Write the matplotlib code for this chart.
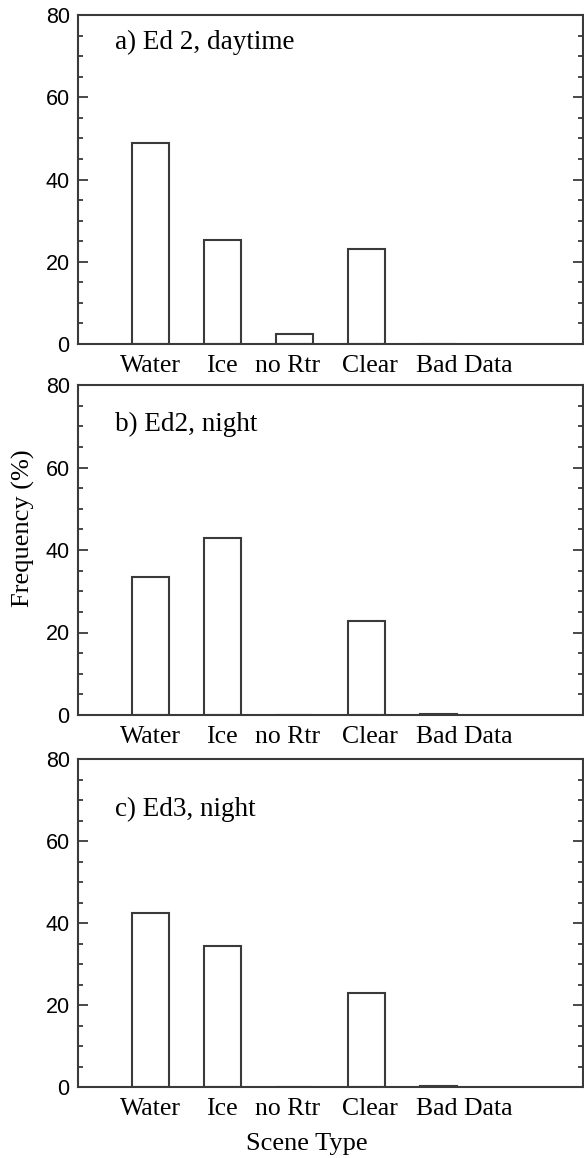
import numpy as np
import matplotlib.pyplot as plt
from matplotlib.ticker import MultipleLocator

# scene types and frequencies (%)
scenes = ["Water", "Ice", "no Rtr", "Clear", "Bad Data"]
ed2_day = [48.9, 25.3, 2.4, 23.2, 0.0]
ed2_night = [33.5, 43.0, 0.0, 22.9, 0.3]
ed3_night = [42.4, 34.4, 0.0, 22.9, 0.3]

titles = ["a) Ed 2, daytime", "b) Ed2, night", "c) Ed3, night"]
series = [ed2_day, ed2_night, ed3_night]

serif = "Liberation Serif"
sans = "Liberation Sans"
edge = "#3a3a3a"

fig = plt.figure(figsize=(5.84, 11.58), dpi=100)

W, H = 584.0, 1158.0
left, right = 78 / W, 583 / W
# (top, bottom) of each panel in pixels
boxes = [(15, 344), (385, 715), (759, 1087)]
title_y = [0.956, 0.92, 0.886]

x = np.arange(1, len(scenes) + 1)
label_x = [1.0, 2.0, 2.9, 4.05, 5.35]

for k in range(3):
    top, bot = boxes[k]
    ax = fig.add_axes([left, 1 - bot / H, right - left, (bot - top) / H])
    ax.bar(x, series[k], width=0.51, facecolor="white", edgecolor=edge, linewidth=1.5)
    ax.set_xlim(0, 7)
    ax.set_ylim(0, 80)

    ax.yaxis.set_major_locator(MultipleLocator(20))
    ax.yaxis.set_minor_locator(MultipleLocator(5))
    ax.tick_params(axis="y", which="both", direction="in", left=True, right=True,
                   colors=edge, width=1.3, labelcolor="black", labelsize=15.5, pad=6)
    ax.tick_params(axis="y", which="major", length=7)
    ax.tick_params(axis="y", which="minor", length=3.5)
    for lab in ax.get_yticklabels():
        lab.set_fontfamily(sans)

    ax.set_xticks(label_x)
    ax.set_xticklabels(scenes, fontfamily=serif, fontsize=18.5)
    ax.tick_params(axis="x", length=0, pad=8)

    for s in ax.spines.values():
        s.set_color(edge)
        s.set_linewidth(1.5)

    ax.text(0.073, title_y[k], titles[k], transform=ax.transAxes, ha="left", va="top",
            fontfamily=serif, fontsize=19.5)

fig.text(23 / W, 1 - 528 / H, "Frequency (%)", rotation=90, ha="center", va="center",
         fontfamily=serif, fontsize=19)
fig.text(307 / W, 1 - 1150 / H, "Scene Type", ha="center", va="baseline",
         fontfamily=serif, fontsize=19)

fig.savefig("out.png", dpi=100)
